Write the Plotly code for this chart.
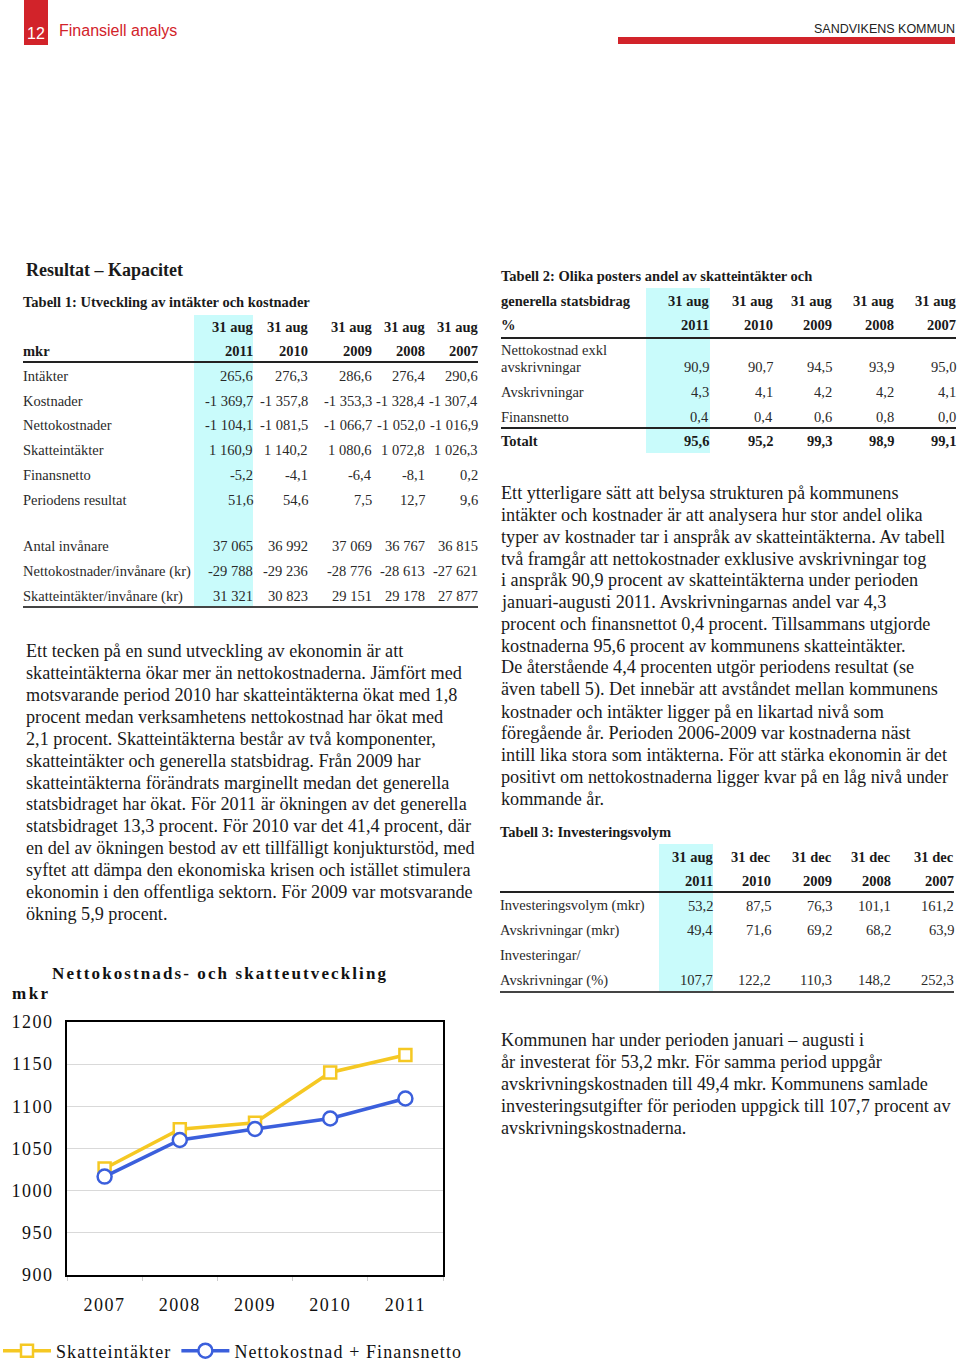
import plotly.graph_objects as go

W, H = 960, 1362
SERIF = "Liberation Serif"
SANS = "Liberation Sans"
RED = "#d2232a"
CYAN = "#c9fbfb"
YELLOW = "#f5c823"
BLUE = "#3b5fdc"

# ---------------- chart data ----------------
years = ["2007", "2008", "2009", "2010", "2011"]
skatteintakter = [1026.3, 1072.8, 1080.6, 1140.2, 1160.9]
nettokostnad_finansnetto = [1016.7, 1060.1, 1073.1, 1085.6, 1109.3]
y_ticks = [900, 950, 1000, 1050, 1100, 1150, 1200]

# ---------------- table data ----------------
t1_cols_top = ["31 aug", "31 aug", "31 aug", "31 aug", "31 aug"]
t1_cols_year = ["2011", "2010", "2009", "2008", "2007"]
t1_labels = ["Intäkter", "Kostnader", "Nettokostnader", "Skatteintäkter", "Finansnetto",
             "Periodens resultat", "Antal invånare", "Nettokostnader/invånare (kr)",
             "Skatteintäkter/invånare (kr)"]
t1_values = [
    ["265,6", "276,3", "286,6", "276,4", "290,6"],
    ["-1 369,7", "-1 357,8", "-1 353,3", "-1 328,4", "-1 307,4"],
    ["-1 104,1", "-1 081,5", "-1 066,7", "-1 052,0", "-1 016,9"],
    ["1 160,9", "1 140,2", "1 080,6", "1 072,8", "1 026,3"],
    ["-5,2", "-4,1", "-6,4", "-8,1", "0,2"],
    ["51,6", "54,6", "7,5", "12,7", "9,6"],
    ["37 065", "36 992", "37 069", "36 767", "36 815"],
    ["-29 788", "-29 236", "-28 776", "-28 613", "-27 621"],
    ["31 321", "30 823", "29 151", "29 178", "27 877"],
]

t2_cols_top = ["31 aug", "31 aug", "31 aug", "31 aug", "31 aug"]
t2_cols_year = ["2011", "2010", "2009", "2008", "2007"]
t2_labels = ["avskrivningar", "Avskrivningar", "Finansnetto", "Totalt"]
t2_values = [
    ["90,9", "90,7", "94,5", "93,9", "95,0"],
    ["4,3", "4,1", "4,2", "4,2", "4,1"],
    ["0,4", "0,4", "0,6", "0,8", "0,0"],
    ["95,6", "95,2", "99,3", "98,9", "99,1"],
]

t3_cols_top = ["31 aug", "31 dec", "31 dec", "31 dec", "31 dec"]
t3_cols_year = ["2011", "2010", "2009", "2008", "2007"]
t3_labels = ["Investeringsvolym (mkr)", "Avskrivningar (mkr)", "Avskrivningar (%)"]
t3_values = [
    ["53,2", "87,5", "76,3", "101,1", "161,2"],
    ["49,4", "71,6", "69,2", "68,2", "63,9"],
    ["107,7", "122,2", "110,3", "148,2", "252,3"],
]

para_left = [
    "Ett tecken på en sund utveckling av ekonomin är att",
    "skatteintäkterna ökar mer än nettokostnaderna. Jämfört med",
    "motsvarande period 2010 har skatteintäkterna ökat med 1,8",
    "procent medan verksamhetens nettokostnad har ökat med",
    "2,1 procent. Skatteintäkterna består av två komponenter,",
    "skatteintäkter och generella statsbidrag. Från 2009 har",
    "skatteintäkterna förändrats marginellt medan det generella",
    "statsbidraget har ökat. För 2011 är ökningen av det generella",
    "statsbidraget 13,3 procent. För 2010 var det 41,4 procent, där",
    "en del av ökningen bestod av ett tillfälligt konjukturstöd, med",
    "syftet att dämpa den ekonomiska krisen och istället stimulera",
    "ekonomin i den offentliga sektorn. För 2009 var motsvarande",
    "ökning 5,9 procent.",
]
para_right = [
    "Ett ytterligare sätt att belysa strukturen på kommunens",
    "intäkter och kostnader är att analysera hur stor andel olika",
    "typer av kostnader tar i anspråk av skatteintäkterna. Av tabell",
    "två framgår att nettokostnader exklusive avskrivningar tog",
    "i anspråk 90,9 procent av skatteintäkterna under perioden",
    "januari-augusti 2011. Avskrivningarnas andel var 4,3",
    "procent och finansnettot 0,4 procent. Tillsammans utgjorde",
    "kostnaderna 95,6 procent av kommunens skatteintäkter.",
    "De återstående 4,4 procenten utgör periodens resultat (se",
    "även tabell 5). Det innebär att avståndet mellan kommunens",
    "kostnader och intäkter ligger på en likartad nivå som",
    "föregående år. Perioden 2006-2009 var kostnaderna näst",
    "intill lika stora som intäkterna. För att stärka ekonomin är det",
    "positivt om nettokostnaderna ligger kvar på en låg nivå under",
    "kommande år.",
]
para_bottom = [
    "Kommunen har under perioden januari – augusti i",
    "år investerat för 53,2 mkr. För samma period uppgår",
    "avskrivningskostnaden till 49,4 mkr. Kommunens samlade",
    "investeringsutgifter för perioden uppgick till 107,7 procent av",
    "avskrivningskostnaderna.",
]


def X(px):
    return px / W


def Y(py):
    return 1 - py / H


annotations = []
shapes = []


def txt(x, y, s, size, bold=False, anchor="left", color="#1a1a1a", family=SERIF):
    annotations.append(dict(
        x=X(x), y=Y(y), xref="paper", yref="paper",
        text=f"<b>{s}</b>" if bold else s, showarrow=False,
        xanchor=anchor, yanchor="middle", borderpad=0, borderwidth=0,
        font=dict(family=family, size=size, color=color)))


def rect(x0, y0, x1, y1, color):
    shapes.append(dict(type="rect", xref="paper", yref="paper",
                       x0=X(x0), x1=X(x1), y0=Y(y1), y1=Y(y0),
                       fillcolor=color, line=dict(width=0), layer="below"))


def hline(x0, x1, y, color="#222", width=2):
    shapes.append(dict(type="line", xref="paper", yref="paper",
                       x0=X(x0), x1=X(x1), y0=Y(y), y1=Y(y),
                       line=dict(color=color, width=width)))


# ---------------- header ----------------
rect(24, 0, 48, 45, RED)
txt(36, 34, "12", 16, anchor="center", color="white", family=SANS)
txt(59, 31, "Finansiell analys", 16, color=RED, family=SANS)
txt(955, 29, "SANDVIKENS KOMMUN", 12.5, anchor="right", color="#222", family=SANS)
rect(618, 37, 955, 44, RED)

# ---------------- Table 1 ----------------
TS = 14.5
txt(26, 270, "Resultat – Kapacitet", 18, bold=True)
txt(23, 302, "Tabell 1: Utveckling av intäkter och kostnader", TS, bold=True)
rect(194, 315, 253, 606, CYAN)
t1_x = [253, 308, 372, 425, 478]
for i, xr in enumerate(t1_x):
    txt(xr, 327, t1_cols_top[i], TS, bold=True, anchor="right")
    txt(xr, 351, t1_cols_year[i], TS, bold=True, anchor="right")
txt(23, 351, "mkr", TS, bold=True)
hline(23, 478, 362, "#222", 2)
t1_y = [376, 401, 425, 450, 475, 500, 546, 571, 596]
for r, yy in enumerate(t1_y):
    txt(23, yy, t1_labels[r], TS, color="#2a2a2a")
    for c, xr in enumerate(t1_x):
        txt(xr, yy, t1_values[r][c], TS, anchor="right", color="#2a2a2a")
hline(23, 478, 607, "#444", 2)

# ---------------- Table 2 ----------------
txt(501, 276, "Tabell 2: Olika posters andel av skatteintäkter och", TS, bold=True)
rect(646, 288, 710, 453, CYAN)
t2_x = [709, 773, 832, 894, 956]
txt(501, 301, "generella statsbidrag", TS, bold=True)
txt(501, 325, "%", TS, bold=True)
for i, xr in enumerate(t2_x):
    txt(xr, 301, t2_cols_top[i], TS, bold=True, anchor="right")
    txt(xr, 325, t2_cols_year[i], TS, bold=True, anchor="right")
hline(501, 956, 338, "#222", 2)
txt(501, 350, "Nettokostnad exkl", TS, color="#2a2a2a")
t2_y = [367, 392, 417, 441]
for r, yy in enumerate(t2_y):
    bold = r == 3
    txt(501, yy, t2_labels[r], TS, bold=bold, color="#1a1a1a" if bold else "#2a2a2a")
    for c, xr in enumerate(t2_x):
        txt(xr, yy, t2_values[r][c], TS, bold=bold, anchor="right",
            color="#1a1a1a" if bold else "#2a2a2a")
hline(501, 956, 428, "#222", 2)

# ---------------- Table 3 ----------------
txt(500, 832, "Tabell 3: Investeringsvolym", TS, bold=True)
rect(659, 844, 713, 992, CYAN)
t3_x = [713, 771, 832, 891, 954]
for i, xr in enumerate(t3_x):
    txt(xr, 857, t3_cols_top[i], TS, bold=True, anchor="right")
    txt(xr, 881, t3_cols_year[i], TS, bold=True, anchor="right")
hline(500, 954, 892, "#222", 2)
txt(500, 955, "Investeringar/", TS, color="#2a2a2a")
t3_y = [906, 930, 980]
for r, yy in enumerate(t3_y):
    txt(500, yy, t3_labels[r], TS, color="#2a2a2a")
    for c, xr in enumerate(t3_x):
        txt(xr, yy, t3_values[r][c], TS, anchor="right", color="#2a2a2a")
hline(500, 954, 992, "#444", 2)

# ---------------- paragraphs ----------------
PS = 18.2
for i, line in enumerate(para_left):
    txt(26, 651 + i * 21.92, line, PS)
for i, line in enumerate(para_right):
    txt(501, 493 + i * 21.86, line, PS)
for i, line in enumerate(para_bottom):
    txt(501, 1040 + i * 22, line, PS)

# ---------------- chart ----------------
SP = '<span style="letter-spacing:1.5px">{}</span>'
SPL = '<span style="letter-spacing:1.1px">{}</span>'
txt(52, 973, '<span style="letter-spacing:2.1px">Nettokostnads- och skatteutveckling</span>', 17, bold=True, color="#111")
txt(12, 993, '<span style="letter-spacing:2.5px">mkr</span>', 17, bold=True, color="#111")

fig = go.Figure()
fig.add_trace(go.Scatter(
    x=years, y=skatteintakter, mode="lines+markers",
    name=SPL.format("Skatteintäkter"),
    line=dict(color=YELLOW, width=3.5),
    marker=dict(symbol="square", size=12, color="white", line=dict(color=YELLOW, width=2.5)),
))
fig.add_trace(go.Scatter(
    x=years, y=nettokostnad_finansnetto, mode="lines+markers",
    name=SPL.format("Nettokostnad + Finansnetto"),
    line=dict(color=BLUE, width=3.5),
    marker=dict(symbol="circle", size=14, color="white", line=dict(color=BLUE, width=2.5)),
))

fig.update_layout(
    width=W, height=H,
    margin=dict(l=0, r=0, t=0, b=0, pad=0, autoexpand=False),
    paper_bgcolor="white", plot_bgcolor="white",
    font=dict(family=SERIF, color="#111"),
    annotations=annotations, shapes=shapes,
    showlegend=True,
    legend=dict(orientation="h", x=X(-2), y=Y(1351), xanchor="left", yanchor="middle",
                font=dict(family=SERIF, size=18, color="#111"),
                itemwidth=48, tracegroupgap=0, bgcolor="rgba(0,0,0,0)"),
    xaxis=dict(
        domain=[X(67), X(443)], type="category",
        range=[-0.5, 4.5],
        tickvals=years, ticktext=[SP.format(y) for y in years],
        showline=True, linecolor="black", linewidth=2, mirror=True,
        showgrid=False, zeroline=False,
        ticks="outside", tickson="boundaries", ticklen=4, tickcolor="#cccccc",
        ticklabelstandoff=12,
        tickfont=dict(family=SERIF, size=18, color="#111"),
    ),
    yaxis=dict(
        domain=[Y(1275), Y(1022)],
        range=[900, 1200],
        tickvals=y_ticks, ticktext=[SP.format(v) for v in y_ticks],
        showline=True, linecolor="black", linewidth=2, mirror=True,
        showgrid=True, gridcolor="#d9d9d9", gridwidth=1, zeroline=False,
        ticks="", ticklabelstandoff=8,
        tickfont=dict(family=SERIF, size=18, color="#111"),
    ),
)

fig.write_html("out.html", config={"displayModeBar": False},
               post_script="document.body.style.margin='0';")
